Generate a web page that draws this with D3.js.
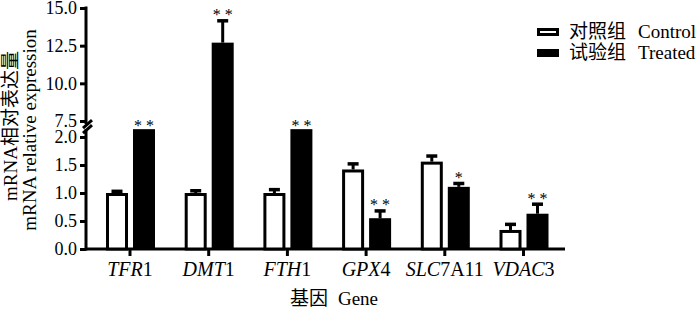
<!DOCTYPE html>
<html>
<head>
<meta charset="utf-8">
<script src="https://cdn.jsdelivr.net/npm/d3@7"></script>
<style>
  body { margin: 0; background: #fff; }
  svg text { font-family: "Liberation Serif", "Noto Sans CJK SC", serif; fill: #000; }
</style>
</head>
<body>
<svg id="chart" width="700" height="310"></svg>
<script>
// gene names: italic part + plain part
const genes = ['TFR1', 'DMT1', 'FTH1', 'GPX4', 'SLC7A11', 'VDAC3'];
const geneItalic = ['TFR', 'DMT', 'FTH', 'GPX', 'SLC', 'VDAC'];
const genePlain = ['1', '1', '1', '4', '7A11', '3'];

const controlMean = [1.0, 1.0, 1.0, 1.42, 1.56, 0.34];
const controlErr = [0.03, 0.04, 0.06, 0.1, 0.1, 0.1];
const treatedMean = [2.3, 12.7, 2.3, 0.55, 1.11, 0.63];
const treatedErr = [0, 1.45, 0, 0.13, 0.06, 0.17];
const treatedStars = ['* *', '* *', '* *', '* *', '*', '* *'];

const lowTicks = [0, 0.5, 1.0, 1.5, 2.0];
const highTicks = [7.5, 10.0, 12.5, 15.0];

const svg = d3.select('#chart');
const axisX = 86, baseY = 249;

// broken y axis: two linear pieces
const yLow = d3.scaleLinear().domain([0, 2]).range([baseY, 137]);
const yHigh = d3.scaleLinear().domain([7.5, 15]).range([121, 8]);
const lowTop = 2.14;

function y(v) {
    if (v <= lowTop) return yLow(v);
    if (v >= 7.5) return yHigh(v);
    return yLow(lowTop); // clipped inside the gap
}

const x = d3.scaleBand().domain(genes).range([90.65, 562.85]).padding(0);
const sub = d3.scaleBand().domain(['control', 'treated']).range([-24, 25]).paddingInner(0.185);

const cx = g => x(g) + x.bandwidth() / 2;

// ---- y axis pieces ----
const lowAxis = svg.append('g').attr('transform', `translate(${axisX},0)`)
    .call(d3.axisLeft(yLow).tickValues(lowTicks).tickFormat(d3.format('.1f')).tickSize(6).tickPadding(3));
const highAxis = svg.append('g').attr('transform', `translate(${axisX},0)`)
    .call(d3.axisLeft(yHigh).tickValues(highTicks).tickFormat(d3.format('.1f')).tickSize(6).tickPadding(3));

[lowAxis, highAxis].forEach(a => {
    a.select('.domain').remove();
    a.selectAll('.tick line').attr('stroke', '#000').attr('stroke-width', 3);
    a.selectAll('.tick text').attr('font-size', 18);
});

svg.append('line').attr('x1', axisX).attr('x2', axisX)
    .attr('y1', yHigh(15) - 1.5).attr('y2', yHigh(7.3))
    .attr('stroke', '#000').attr('stroke-width', 3);
svg.append('line').attr('x1', axisX).attr('x2', axisX)
    .attr('y1', yLow(lowTop)).attr('y2', baseY + 1.5)
    .attr('stroke', '#000').attr('stroke-width', 3);

// break slashes
[yHigh(7.3), yLow(lowTop)].forEach(yy => {
    svg.append('line')
        .attr('x1', axisX - 3).attr('y1', yy + 4)
        .attr('x2', axisX + 6).attr('y2', yy - 4)
        .attr('stroke', '#000').attr('stroke-width', 3);
});

// ---- x axis ----
svg.append('line').attr('x1', axisX).attr('x2', 565)
    .attr('y1', baseY).attr('y2', baseY)
    .attr('stroke', '#000').attr('stroke-width', 3);

genes.forEach((g, i) => {
    svg.append('line').attr('x1', cx(g)).attr('x2', cx(g))
        .attr('y1', baseY).attr('y2', baseY + 7)
        .attr('stroke', '#000').attr('stroke-width', 3);
    const t = svg.append('text').attr('x', cx(g)).attr('y', 276)
        .attr('text-anchor', 'middle').attr('font-size', 20);
    t.append('tspan').attr('font-style', 'italic').text(geneItalic[i]);
    t.append('tspan').text(genePlain[i]);
});

// ---- bars ----
const bw = sub.bandwidth();

genes.forEach((g, i) => {
    // control: open bar
    const c0 = cx(g) + sub('control');
    const cTop = y(controlMean[i]);
    errBar(c0 + bw / 2, cTop, y(controlMean[i] + controlErr[i]));
    svg.append('rect')
        .attr('x', c0 + 1.5).attr('y', cTop + 1.5)
        .attr('width', bw - 3).attr('height', baseY - cTop - 1.5)
        .attr('fill', '#fff').attr('stroke', '#000').attr('stroke-width', 3);

    // treated: solid bar
    const t0 = cx(g) + sub('treated');
    const tTop = y(treatedMean[i]);
    let capTop = tTop;
    if (treatedErr[i] > 0) {
        capTop = y(treatedMean[i] + treatedErr[i]) - 2;
        errBar(t0 + bw / 2, tTop, y(treatedMean[i] + treatedErr[i]));
    }
    svg.append('rect')
        .attr('x', t0).attr('y', tTop)
        .attr('width', bw).attr('height', baseY - tTop)
        .attr('fill', '#000');

    svg.append('text')
        .attr('x', t0 + bw / 2).attr('y', capTop - 7 + 8.5)
        .attr('text-anchor', 'middle').attr('font-size', 16)
        .text(treatedStars[i]);
});

function errBar(xm, y0, y1) {
    svg.append('line').attr('x1', xm).attr('x2', xm)
        .attr('y1', y0).attr('y2', y1)
        .attr('stroke', '#000').attr('stroke-width', 3);
    svg.append('line').attr('x1', xm - 5.5).attr('x2', xm + 5.5)
        .attr('y1', y1).attr('y2', y1)
        .attr('stroke', '#000').attr('stroke-width', 3.5);
}

// ---- axis titles ----
const yt = svg.append('g').attr('transform', 'translate(0,126) rotate(-90)');
yt.append('text').attr('x', 0).attr('y', 17).attr('text-anchor', 'middle')
    .attr('font-size', 19).text('mRNA相对表达量');
yt.append('text').attr('x', -4).attr('y', 36).attr('text-anchor', 'middle')
    .attr('font-size', 19).text('mRNA relative expression');

const xt = svg.append('text').attr('x', 334).attr('y', 305)
    .attr('text-anchor', 'middle').attr('font-size', 19);
xt.append('tspan').text('基因');
xt.append('tspan').attr('dx', 10).text('Gene');

// ---- legend ----
const legend = [
    {cn: '对照组', en: 'Control', fill: '#fff', y: 32},
    {cn: '试验组', en: 'Treated', fill: '#000', y: 53}
];
legend.forEach(d => {
    svg.append('rect')
        .attr('x', 538.5).attr('y', d.y - 2.5)
        .attr('width', 19).attr('height', 5)
        .attr('fill', d.fill).attr('stroke', '#000').attr('stroke-width', 3);
    const t = svg.append('text').attr('x', 569).attr('y', d.y + 6).attr('font-size', 19);
    t.append('tspan').text(d.cn);
    t.append('tspan').attr('dx', 12).text(d.en);
});
</script>
</body>
</html>
